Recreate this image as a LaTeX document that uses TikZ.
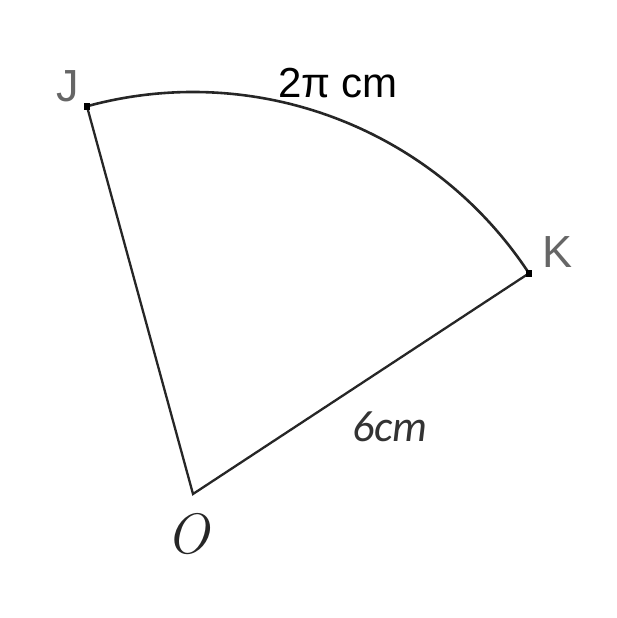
\documentclass[tikz,border=0pt]{standalone}
\usepackage{fontspec}
\setmainfont{Liberation Sans}
\newfontfamily\carl{Carlito}
\newfontfamily\lmr{Latin Modern Roman}
\begin{document}
\begin{tikzpicture}[x=1pt,y=1pt,
  edge/.style={draw=black!85,line width=2.3pt},
  ptdot/.style={fill=black,minimum size=6.5pt,inner sep=0pt,rectangle},
  greylab/.style={text=black!60,font=\fontsize{45}{45}\selectfont,inner sep=0pt}]
\useasboundingbox (0,0) rectangle (616,618);
\coordinate (O) at (193,124);
\coordinate (J) at (193+402*cos 105.3, 124+402*sin 105.3);
\coordinate (K) at (193+402*cos 33.3, 124+402*sin 33.3);
\draw[edge,line width=2.6pt] (J) arc[start angle=105.3,end angle=33.3,radius=402];
\draw[edge,line join=miter] (K) -- (O) -- (J);
\node[ptdot] (Jd) at (J) {};
\node[ptdot] (Kd) at (K) {};
\node[greylab] (Jl) at (68,532) {J};
\node[greylab] (Kl) at (557,366) {K};
\node[inner sep=0pt,font=\fontsize{42}{42}\selectfont] (arcl) at (338,535) {2π cm};
\node[inner sep=0pt,text=black!80,font=\carl\itshape\fontsize{44}{44}\selectfont] (rl) at (390,191) {6cm};
\node[inner sep=0pt,text=black!85,font=\fontsize{57}{57}\selectfont] (Ol) at (188,84) {\lmr\itshape O};
\end{tikzpicture}
\end{document}
